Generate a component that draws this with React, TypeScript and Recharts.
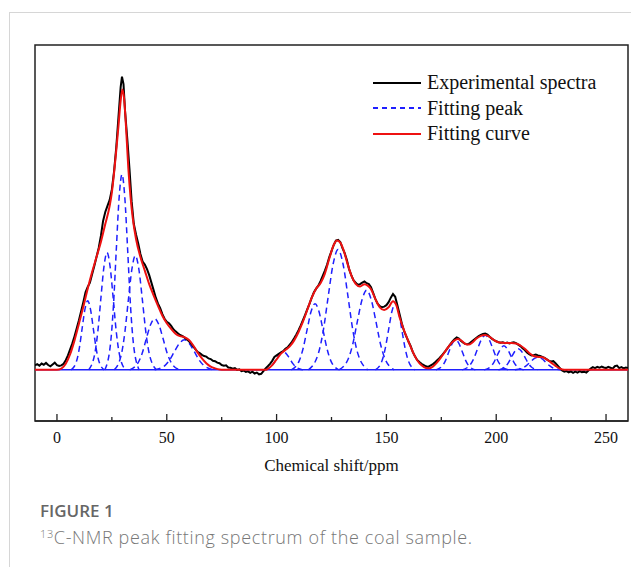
import React from 'react';
import { LineChart, Line, XAxis, YAxis, ReferenceArea, Legend } from 'recharts';

type P = [number, number];
const toPts = (a: P[]) => a.map(([x, y]) => ({ x, y }));

// Chemical shift (ppm) vs intensity (arbitrary units)
const experimental: P[] = [
  [-10, 1.5], [-9, 1.9], [-8, 1.4], [-7, 2.1], [-6, 1.7], [-5, 2.3], [-4, 1.6], [-3, 1.2], [-2, 1.8], [-1, 2.4],
  [0, 1.6], [1, 1.3], [2, 1.5], [3, 2.0], [4, 3.2], [5, 4.8], [6, 6.8], [7, 8.8], [8, 11.2], [9, 13.8],
  [10, 16.5], [11, 19.5], [12, 22.5], [13, 25.8], [14, 27.6], [15, 29.0], [16, 31.8], [17, 34.5], [18, 37.5], [19, 40.5],
  [20, 44.5], [21, 49.5], [22, 52.5], [23, 54.5], [24, 56.5], [25, 60], [26, 66], [27, 74], [28, 84], [29, 94],
  [29.6, 97.5], [30.3, 95], [31, 86], [32, 77], [33, 67], [34, 56], [35, 48.5], [36, 45], [37, 42], [38, 38.5],
  [39, 36], [40, 35], [41, 33.5], [42, 31.5], [43, 29], [44, 26.5], [45, 24], [46, 22], [47, 20.5], [48, 18.5],
  [49, 17.0], [50, 16.0], [51, 15.5], [52, 14.6], [53, 13.5], [54, 12.8], [55, 12.2], [56, 11.6], [57, 11.3], [58, 10.8],
  [59, 10.2], [60, 9.6], [61, 8.8], [62, 7.8], [63, 6.9], [64, 6.0], [65, 5.6], [66, 5.0], [67, 4.6], [68, 4.4],
  [69, 3.8], [70, 3.6], [71, 3.0], [72, 2.9], [73, 2.4], [74, 2.2], [75, 1.6], [76, 1.4], [77, 1.5], [78, 0.8],
  [79, 0.7], [80, 0.4], [81, 0.6], [82, 0.0], [83, 0.2], [84, -0.4], [85, -0.2], [86, -0.7], [87, -0.5], [88, -1.0],
  [89, -0.6], [90, -1.2], [91, -0.9], [92, -1.5], [93, -1.3], [94, -0.4], [95, 0.5], [96, 1.2], [97, 2.0], [98, 3.0],
  [99, 4.3], [100, 4.8], [101, 5.3], [102, 5.8], [103, 6.2], [104, 7.0], [105, 7.5], [106, 8.4], [107, 9.3], [108, 10.5],
  [109, 11.8], [110, 13.2], [111, 14.8], [112, 16.5], [113, 18.3], [114, 20.2], [115, 22.0], [116, 24.0], [117, 25.8], [118, 27.0],
  [119, 28.0], [120, 29.5], [121, 31.2], [122, 33.0], [123, 35.0], [124, 37.5], [125, 39.5], [126, 41.5], [127, 43.0], [128, 43.2],
  [129, 42.5], [130, 40.5], [131, 38.8], [132, 36.5], [133, 33.5], [134, 31.5], [135, 29.8], [136, 29.0], [137, 28.2], [138, 28.5],
  [139, 29.0], [140, 29.4], [141, 28.8], [142, 28.5], [143, 27.5], [144, 25.5], [145, 23.5], [146, 22.0], [147, 21.2], [148, 20.8],
  [149, 21.0], [150, 21.5], [151, 22.5], [152, 24.0], [153, 25.2], [154, 24.3], [155, 21.5], [156, 18.5], [157, 15.5], [158, 13.0],
  [159, 11.2], [160, 9.5], [161, 8.0], [162, 6.0], [163, 4.5], [164, 3.3], [165, 2.6], [166, 2.0], [167, 1.6], [168, 1.2],
  [169, 1.0], [170, 1.4], [171, 1.8], [172, 2.4], [173, 3.1], [174, 3.8], [175, 4.6], [176, 5.5], [177, 6.4], [178, 7.4],
  [179, 8.4], [180, 9.4], [181, 10.2], [182, 10.8], [183, 10.4], [184, 9.6], [185, 9.0], [186, 8.6], [187, 8.5], [188, 8.9],
  [189, 9.5], [190, 10.1], [191, 10.7], [192, 11.2], [193, 11.6], [194, 11.9], [195, 12.1], [196, 11.7], [197, 11.0], [198, 10.4],
  [199, 9.9], [200, 9.5], [201, 9.2], [202, 9.0], [203, 9.2], [204, 8.9], [205, 9.1], [206, 8.8], [207, 9.0], [208, 9.2],
  [209, 8.9], [210, 8.4], [211, 7.9], [212, 7.2], [213, 6.6], [214, 5.8], [215, 5.2], [216, 4.8], [217, 4.9], [218, 5.1],
  [219, 4.8], [220, 4.6], [221, 4.3], [222, 4.0], [223, 3.5], [224, 3.0], [225, 2.8], [226, 2.9], [227, 2.2], [228, 1.4],
  [229, 0.6], [230, -0.2], [231, -0.6], [232, -0.4], [233, -0.8], [234, -0.5], [235, -1.0], [236, -0.6], [237, -0.9], [238, -0.4],
  [239, -0.8], [240, -0.6], [241, -0.9], [242, -0.2], [243, 0.4], [244, 0.9], [245, 0.6], [246, 1.0], [247, 0.7], [248, 1.1],
  [249, 0.8], [250, 0.6], [251, 1.0], [252, 0.7], [253, 0.4], [254, 1.2], [255, 1.4], [256, 0.6], [257, 0.9], [258, 0.5],
  [259, 0.8], [260, 0.6],
];

const fittingCurve: P[] = [
  [-10, 0], [0, 0], [2, 0.4], [4, 2.0], [6, 5.2], [8, 9.8], [10, 15.3], [12, 21.0], [14, 27.0], [16, 32.5],
  [18, 37.5], [20, 42.5], [22, 48.5], [24, 54.5], [25, 59], [26, 65.5], [27, 73], [28, 81], [29, 89.5], [29.8, 93.2],
  [30.6, 90], [31.5, 80], [32.5, 67], [33.5, 57.5], [34.5, 50.5], [36, 43.5], [38, 37.5], [40, 33.0], [42, 28.5], [44, 24.8],
  [46, 21.3], [48, 18.0], [50, 15.5], [52, 13.6], [54, 12.0], [56, 11.2], [58, 10.9], [60, 10.0], [62, 8.2], [64, 5.8],
  [66, 3.8], [68, 2.2], [70, 1.1], [72, 0.5], [74, 0.1], [76, 0], [95, 0], [96, 0.3], [98, 1.6], [100, 3.5],
  [102, 5.4], [104, 6.6], [106, 7.8], [108, 9.8], [110, 12.6], [112, 16.0], [114, 20.0], [116, 24.0], [118, 27.0], [120, 28.8],
  [122, 32.0], [124, 37.0], [126, 41.5], [127.5, 43.0], [129, 42.3], [130.5, 39.8], [132, 36.0], [134, 31.5], [136, 28.6], [138, 27.7],
  [140, 28.5], [141.5, 28.0], [143, 26.8], [145, 23.5], [147, 20.8], [149, 19.9], [151, 20.8], [153, 22.8], [154.5, 21.5], [156, 17.5],
  [158, 13.2], [160, 9.5], [162, 6.0], [164, 3.2], [166, 1.5], [168, 0.6], [169.5, 0.5], [171, 1.0], [173, 2.4], [175, 4.3],
  [177, 6.4], [179, 8.4], [181, 9.8], [182.5, 10.3], [184, 9.8], [186, 8.6], [187.5, 8.4], [189, 9.0], [191, 10.4], [193, 11.3],
  [195, 11.6], [197, 11.0], [199, 9.9], [201, 9.2], [203, 9.0], [205, 8.9], [207, 8.9], [209, 8.8], [211, 8.1], [213, 7.0],
  [215, 5.6], [217, 4.6], [219, 4.3], [221, 4.2], [223, 3.5], [225, 2.4], [227, 1.3], [229, 0.4], [231, 0], [260, 0],
];

// Individual fitted peaks
const peakA1: P[] = [[6.5, 0], [9, 3.1], [10.25, 7.5], [11.5, 14], [12.75, 20.2], [14, 23], [15.25, 20.2], [16.5, 14], [17.75, 7.5], [19, 3.1], [21.5, 0]];
const peakA2: P[] = [[14.4, 0], [17.2, 5.3], [18.6, 12.7], [20, 23.8], [21.4, 34.3], [22.8, 39], [24.2, 34.3], [25.6, 23.8], [27, 12.7], [28.4, 5.3], [31.2, 0]];
const peakA3: P[] = [[21.8, 0], [24.4, 8.8], [25.7, 21.1], [27, 39.7], [28.3, 57.2], [29.6, 65], [30.9, 57.2], [32.2, 39.7], [33.5, 21.1], [34.8, 8.8], [37.4, 0]];
const peakA4: P[] = [[26.1, 0], [29.3, 5.1], [30.9, 12.4], [32.5, 23.2], [34.1, 33.4], [35.7, 38], [37.3, 33.4], [38.9, 23.2], [40.5, 12.4], [42.1, 5.1], [45.3, 0]];
const peakA5: P[] = [[33.1, 0], [36.9, 2.3], [38.8, 5.5], [40.7, 10.4], [42.6, 15], [44.5, 17], [46.4, 15], [48.3, 10.4], [50.2, 5.5], [52.1, 2.3], [55.9, 0]];
const peakA6: P[] = [[44.5, 0], [49, 1.35], [51.25, 3.25], [53.5, 6.1], [55.75, 8.8], [58, 10], [60.25, 8.8], [62.5, 6.1], [64.75, 3.25], [67, 1.35], [71.5, 0]];
const peakB1: P[] = [[94, 0], [97, 0.8], [98.5, 2.0], [100, 3.7], [101.5, 5.3], [103, 6], [104.5, 5.3], [106, 3.7], [107.5, 2.0], [109, 0.8], [112, 0]];
const peakB2: P[] = [[106.7, 0], [110.3, 3.0], [112.1, 7.2], [113.9, 13.4], [115.7, 19.4], [117.5, 22], [119.3, 19.4], [121.1, 13.4], [122.9, 7.2], [124.7, 3.0], [128.3, 0]];
const peakB3: P[] = [[114.5, 0], [119, 5.4], [121.25, 13], [123.5, 24.4], [125.75, 35.2], [128, 40], [130.25, 35.2], [132.5, 24.4], [134.75, 13], [137, 5.4], [141.5, 0]];
const peakB4: P[] = [[128.4, 0], [132.6, 3.6], [134.7, 8.6], [136.8, 16.2], [138.9, 23.3], [141, 26.5], [143.1, 23.3], [145.2, 16.2], [147.3, 8.6], [149.4, 3.6], [153.6, 0]];
const peakB5: P[] = [[145, 0], [148, 3.0], [149.5, 7.2], [151, 13.4], [152.5, 19.4], [154, 22], [155.5, 19.4], [157, 13.4], [158.5, 7.2], [160, 3.0], [163, 0]];
const peakC1: P[] = [[172.5, 0], [175.5, 1.35], [177, 3.25], [178.5, 6.1], [180, 8.8], [181.5, 10], [183, 8.8], [184.5, 6.1], [186, 3.25], [187.5, 1.35], [190.5, 0]];
const peakC2: P[] = [[184.5, 0], [188, 1.55], [189.75, 3.7], [191.5, 7.0], [193.25, 10.1], [195, 11.5], [196.75, 10.1], [198.5, 7.0], [200.25, 3.7], [202, 1.55], [205.5, 0]];
const peakC3: P[] = [[194.5, 0], [197.5, 1.1], [199, 2.6], [200.5, 4.9], [202, 7.0], [203.5, 8], [205, 7.0], [206.5, 4.9], [208, 2.6], [209.5, 1.1], [212.5, 0]];
const peakC4: P[] = [[201, 0], [204, 0.95], [205.5, 2.3], [207, 4.3], [208.5, 6.2], [210, 7], [211.5, 6.2], [213, 4.3], [214.5, 2.3], [216, 0.95], [219, 0]];
const peakC5: P[] = [[208.5, 0], [212, 0.57], [213.75, 1.4], [215.5, 2.6], [217.25, 3.7], [219, 4.2], [220.75, 3.7], [222.5, 2.6], [224.25, 1.4], [226, 0.57], [229.5, 0]];
const peakBaseline: P[] = [[-10, 0], [260, 0]];

const fittingPeaks: P[][] = [
  peakA1, peakA2, peakA3, peakA4, peakA5, peakA6,
  peakB1, peakB2, peakB3, peakB4, peakB5,
  peakC1, peakC2, peakC3, peakC4, peakC5,
];

const xTicks = [0, 25, 50, 75, 100, 125, 150, 175, 200, 225, 250];
const xDomain: [number, number] = [-10, 260];
const yDomain: [number, number] = [-17, 108];

const legendItems = [
  { name: 'Experimental spectra', color: '#000000', dash: undefined as string | undefined },
  { name: 'Fitting peak', color: '#1f1fff', dash: '5 4' },
  { name: 'Fitting curve', color: '#ee1111', dash: undefined as string | undefined },
];

const SERIF = '"Liberation Serif", "Times New Roman", serif';
const SANS = '"Open Sans", "Noto Sans", sans-serif';

const AxisTick = (props: any) => {
  const { x, y, payload } = props;
  const major = payload.value % 50 === 0;
  return (
    <g>
      <line x1={x} x2={x} y1={y} y2={y - (major ? 7 : 4)} stroke="#222" strokeWidth={1.3} />
      {major && (
        <text x={x} y={y + 22} textAnchor="middle" fontFamily={SERIF} fontSize={16} fill="#111">
          {payload.value}
        </text>
      )}
    </g>
  );
};

const LegendContent = () => (
  <div style={{ fontFamily: SERIF, fontSize: 20, color: '#111' }}>
    {legendItems.map((it) => (
      <div key={it.name} style={{ display: 'flex', alignItems: 'center', height: 25.5 }}>
        <svg width={48} height={6} style={{ marginRight: 6 }}>
          <line x1={0} x2={48} y1={3} y2={3} stroke={it.color} strokeWidth={2} strokeDasharray={it.dash} />
        </svg>
        <span style={{ lineHeight: '25.5px' }}>{it.name}</span>
      </div>
    ))}
  </div>
);

export default function App() {
  return (
    <div style={{ position: 'relative', width: 631, height: 559 }}>
      <div
        style={{
          position: 'absolute', left: 1, top: 4, right: 0, bottom: 0,
          borderTop: '1px solid #d6d6d6', borderLeft: '1px solid #d6d6d6',
        }}
      />
      <div style={{ position: 'absolute', left: 0, top: 0 }}>
        <LineChart width={631} height={480} margin={{ top: 37, right: 11, left: 27, bottom: 0 }}>
          <XAxis
            type="number"
            dataKey="x"
            domain={xDomain}
            ticks={xTicks}
            allowDataOverflow
            height={67}
            tickSize={0}
            tickMargin={0}
            tickLine={false}
            axisLine={{ stroke: '#222', strokeWidth: 1.5 }}
            tick={<AxisTick />}
            interval={0}
            label={{
              content: (p: any) => {
                const vb = p.viewBox || {};
                return (
                  <text x={vb.x + vb.width / 2} y={vb.y + 50} textAnchor="middle" fontFamily={SERIF} fontSize={17} fill="#111">
                    Chemical shift/ppm
                  </text>
                );
              },
            }}
          />
          <YAxis type="number" dataKey="y" domain={yDomain} allowDataOverflow hide />
          <ReferenceArea x1={xDomain[0]} x2={xDomain[1]} y1={yDomain[0]} y2={yDomain[1]} fill="none" stroke="#222" strokeWidth={1.5} fillOpacity={0} />
          {fittingPeaks.map((pk, i) => (
            <Line
              key={'pk' + i}
              data={toPts(pk)}
              dataKey="y"
              type="monotone"
              stroke="#1f1fff"
              strokeWidth={1.5}
              strokeDasharray="6 4"
              dot={false}
              activeDot={false}
              isAnimationActive={false}
              legendType="none"
            />
          ))}
          <Line data={toPts(peakBaseline)} dataKey="y" type="linear" stroke="#1f1fff" strokeWidth={1.5} dot={false} activeDot={false} isAnimationActive={false} legendType="none" />
          <Line data={toPts(experimental)} dataKey="y" type="linear" stroke="#000" strokeWidth={2} dot={false} activeDot={false} isAnimationActive={false} name="Experimental spectra" />
          <Line data={toPts(fittingCurve)} dataKey="y" type="monotone" stroke="#ee1111" strokeWidth={2} dot={false} activeDot={false} isAnimationActive={false} name="Fitting curve" />
          <Legend
            layout="vertical"
            align="center"
            verticalAlign="middle"
            content={<LegendContent />}
            wrapperStyle={{ left: 365, top: 62, width: 260 }}
          />
        </LineChart>
      </div>
      <div style={{ position: 'absolute', left: 32, top: 494, fontFamily: SANS, fontSize: 17, fontWeight: 600, color: '#666', lineHeight: '18px' }}>
        FIGURE 1
      </div>
      <div style={{ position: 'absolute', left: 32, top: 519, fontFamily: SANS, fontSize: 18, fontWeight: 300, color: '#777', lineHeight: '20px', letterSpacing: 0.65, whiteSpace: 'nowrap' }}>
        <sup style={{ fontSize: 11, verticalAlign: 'top', position: 'relative', top: 1, lineHeight: '11px' }}>13</sup>C-NMR peak fitting spectrum of the coal sample.
      </div>
    </div>
  );
}
